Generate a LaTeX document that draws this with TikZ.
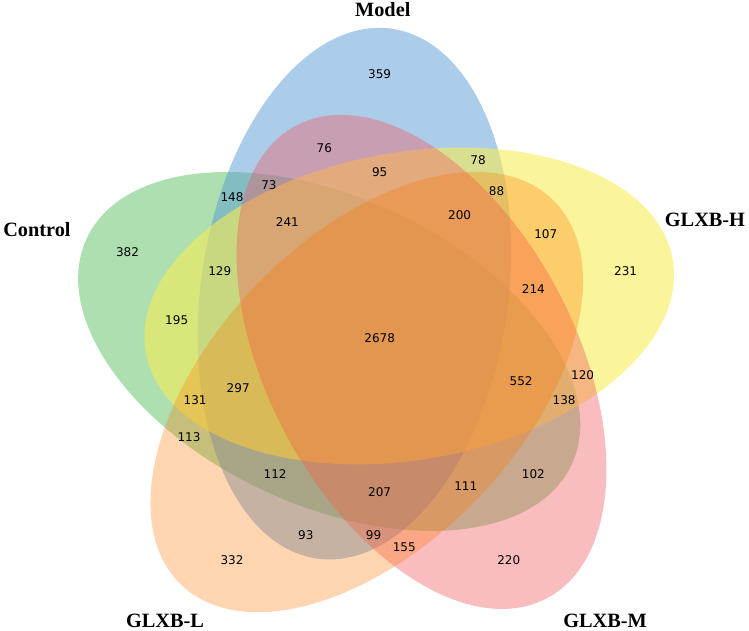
\documentclass[tikz,border=0pt]{standalone}
\usepackage{fontspec}
\usepackage{xcolor}
\usepackage{tikz}
\newfontfamily\numfont{DejaVu Sans}
\newfontfamily\namefont{Liberation Serif}

\definecolor{setgreen}{RGB}{92,192,98}
\definecolor{setblue}{RGB}{90,155,212}
\definecolor{setyellow}{RGB}{246,236,86}
\definecolor{setred}{RGB}{241,90,96}
\definecolor{setorange}{RGB}{255,117,0}

\begin{document}
\begin{tikzpicture}[
    x=615pt, y=615pt,
    cnt/.style={font=\numfont\fontsize{12}{14}\selectfont, inner sep=0pt},
    setname/.style={font=\namefont\bfseries\fontsize{20.3}{24}\selectfont, inner sep=0pt},
    petal/.style={draw=none, x radius=0.435, y radius=0.25},
]
\useasboundingbox (-0.10732,-0.00553) rectangle (1.11057,1.02049);

% --- The five ellipses, drawn back to front ---
\fill[setgreen,  fill opacity=0.5, shift={(0.428,0.449)}, rotate=155] (0,0) ellipse [petal];
\fill[setblue,   fill opacity=0.5, shift={(0.469,0.543)}, rotate=82]  (0,0) ellipse [petal];
\fill[setyellow, fill opacity=0.6, shift={(0.558,0.523)}, rotate=10]  (0,0) ellipse [petal];
\fill[setred,    fill opacity=0.4, shift={(0.578,0.432)}, rotate=118] (0,0) ellipse [petal];
\fill[setorange, fill opacity=0.3, shift={(0.489,0.383)}, rotate=46]  (0,0) ellipse [petal];

% --- Set names ---
\node[setname] (control) at (-0.0472,0.6470) {Control};
\node[setname] (model)   at (0.5151,1.0047)  {Model};
\node[setname] (glxbh)   at (1.0390,0.6623)  {GLXB-H};
\node[setname] (glxbm)   at (0.8764,0.0112)  {GLXB-M};
\node[setname] (glxbl)   at (0.1610,0.0112)  {GLXB-L};

% --- Region counts (bits: Control, Model, GLXB-H, GLXB-M, GLXB-L) ---
\node[cnt] (r00001) at (0.27,0.11) {332};
\node[cnt] (r00010) at (0.72,0.11) {220};
\node[cnt] (r00011) at (0.55,0.13) {155};
\node[cnt] (r00100) at (0.91,0.58) {231};
\node[cnt] (r00101) at (0.78,0.64) {107};
\node[cnt] (r00110) at (0.84,0.41) {120};
\node[cnt] (r00111) at (0.76,0.55) {214};
\node[cnt] (r01000) at (0.51,0.90) {359};
\node[cnt] (r01001) at (0.39,0.15) {93};
\node[cnt] (r01010) at (0.42,0.78) {76};
\node[cnt] (r01011) at (0.50,0.15) {99};
\node[cnt] (r01100) at (0.67,0.76) {78};
\node[cnt] (r01101) at (0.70,0.71) {88};
\node[cnt] (r01110) at (0.51,0.74) {95};
\node[cnt] (r01111) at (0.64,0.67) {200};
\node[cnt] (r10000) at (0.10,0.61) {382};
\node[cnt] (r10001) at (0.20,0.31) {113};
\node[cnt] (r10010) at (0.76,0.25) {102};
\node[cnt] (r10011) at (0.65,0.23) {111};
\node[cnt] (r10100) at (0.18,0.50) {195};
\node[cnt] (r10101) at (0.21,0.37) {131};
\node[cnt] (r10110) at (0.81,0.37) {138};
\node[cnt] (r10111) at (0.74,0.40) {552};
\node[cnt] (r11000) at (0.27,0.70) {148};
\node[cnt] (r11001) at (0.34,0.25) {112};
\node[cnt] (r11010) at (0.33,0.72) {73};
\node[cnt] (r11011) at (0.51,0.22) {207};
\node[cnt] (r11100) at (0.25,0.58) {129};
\node[cnt] (r11101) at (0.28,0.39) {297};
\node[cnt] (r11110) at (0.36,0.66) {241};
\node[cnt] (r11111) at (0.51,0.47) {2678};

\end{tikzpicture}
\end{document}
